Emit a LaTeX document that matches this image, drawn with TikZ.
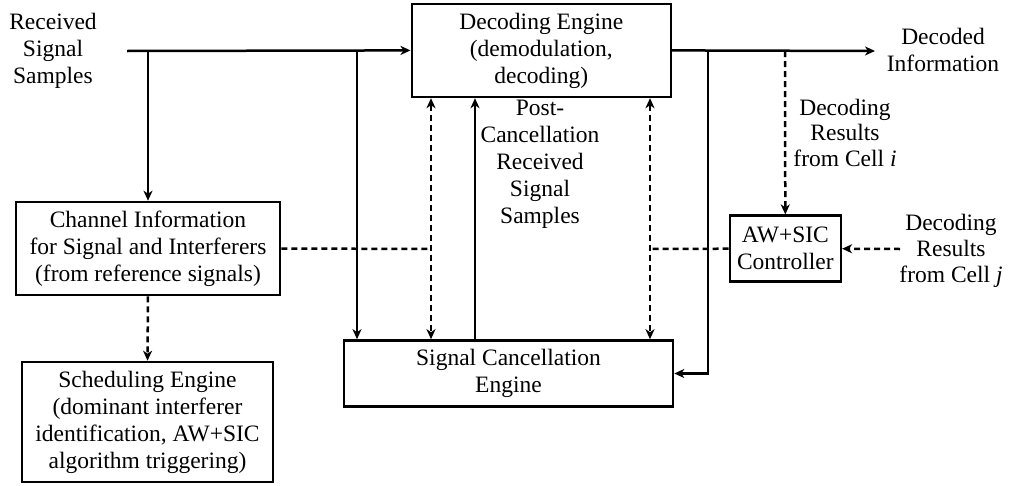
\documentclass[tikz,border=0pt]{standalone}
\usepackage{fontspec}
\setmainfont{Liberation Serif}
\usetikzlibrary{arrows.meta}
\begin{document}
\begin{tikzpicture}[x=1pt,y=-1pt,
  every node/.style={font=\rmfamily\fontsize{23.5}{27}\selectfont, align=center, inner sep=0pt},
  blk/.style={draw, line width=2.6pt},
  plainline/.style={line width=2.5pt},
  dashline/.style={plainline, dash pattern=on 6pt off 4pt},
  conn/.style={plainline, -{Stealth[length=10pt,width=9pt,inset=3pt]}},
  dotconn/.style={conn, dash pattern=on 6pt off 4pt},
  biconn/.style={plainline, dash pattern=on 6pt off 4pt, {Stealth[length=10pt,width=9pt,inset=3pt]}-{Stealth[length=10pt,width=9pt,inset=3pt]}},
]
\useasboundingbox (0,0) rectangle (1010,485);

% blocks
\node[blk, minimum width=259pt, minimum height=93pt] (dec) at (541.3,50.4) {Decoding Engine\\(demodulation,\\decoding)};
\node[blk, minimum width=264pt, minimum height=93pt] (chan) at (148,248.5) {Channel Information\\for Signal and Interferers\\(from reference signals)};
\node[blk, minimum width=251pt, minimum height=120pt] (sched) at (147.5,422) {Scheduling Engine\\(dominant interferer\\identification, AW+SIC\\algorithm triggering)};
\node[blk, minimum width=329pt, minimum height=66pt] (sce) at (508.5,373.5) {Signal Cancellation\\Engine};
\node[blk, minimum width=111pt, minimum height=66pt] (aw) at (785.3,248.7) {AW+SIC\\Controller};

% labels
\node (rss) at (53,51) {Received\\Signal\\Samples};
\node (dinfo) at (943,50) {Decoded\\Information};
\node[font=\rmfamily\fontsize{23.5}{25.5}\selectfont] (dri) at (845,132.5) {Decoding\\Results\\from Cell \textit{i}};
\node[font=\rmfamily\fontsize{23.5}{26}\selectfont] (drj) at (951,251) {Decoding\\Results\\from Cell \textit{j}};
\node (pcr) at (540,164) {Post-\\Cancellation\\Received\\Signal\\Samples};

% coordinates
\coordinate (in) at (127,51);
\coordinate (b1) at (148,51);
\coordinate (b2) at (357,51);
\coordinate (b3) at (708,51);
\coordinate (b4) at (785,51);
\coordinate (out) at (875,51);
\coordinate (vl) at (431,249);
\coordinate (vr) at (650,249);
\coordinate (jin) at (900,249);

% solid connectors
\draw[conn] (in) -- (dec.west);
\draw[conn] (b1) -- (chan.north);
\draw[conn] (b2) -- (sce.north -| b2);
\draw[conn] (dec.east) -- (out);
\draw[conn] (b3) |- (sce.east);
\draw[conn] (sce.north -| 475,0) -- (dec.south -| 475,0);

% dotted connectors
\draw[dotconn] (b4) -- (aw.north);
\draw[biconn] (dec.south -| vl) -- (sce.north -| vl);
\draw[biconn] (dec.south -| vr) -- (sce.north -| vr);
\draw[dashline] (chan.east) -- (vl);
\draw[dashline] (aw.west) -- (vr);
\draw[dotconn] (jin) -- (aw.east);
\draw[dotconn] (chan.south) -- (sched.north);
\end{tikzpicture}
\end{document}
